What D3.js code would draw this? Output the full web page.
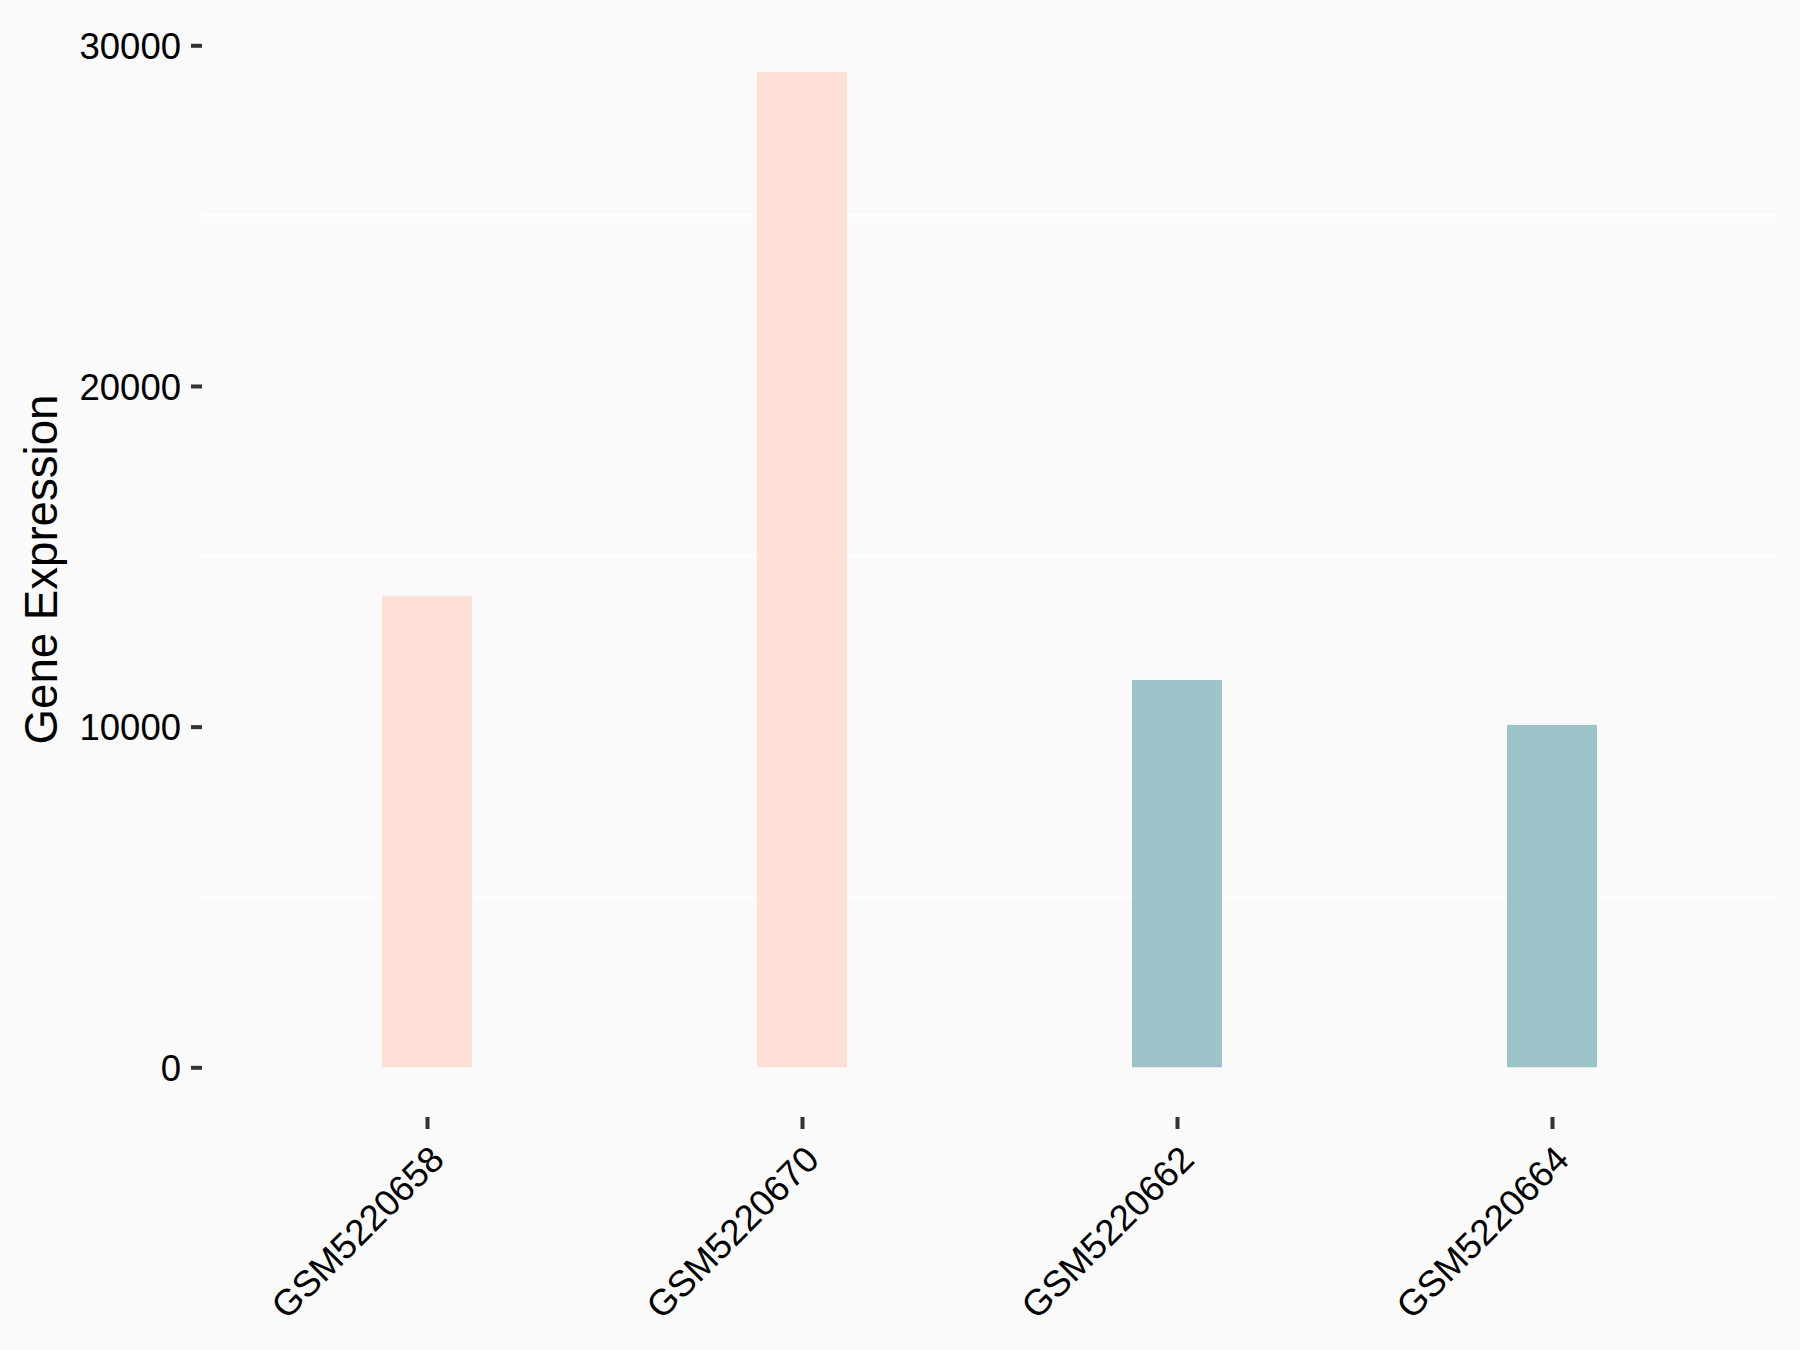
<!DOCTYPE html>
<html>
<head>
<meta charset="utf-8">
<script src="https://cdn.jsdelivr.net/npm/d3@7"></script>
<style>
  html, body { margin: 0; padding: 0; background: #fafafa; }
  svg { display: block; font-family: Arial, "Liberation Sans", sans-serif; }
</style>
</head>
<body>
<div id="chart"></div>
<script>
'use strict';

// sample ids, in plotted order
var samples = ["GSM5220658", "GSM5220670", "GSM5220662", "GSM5220664"];
// expression values
var expression = [13840, 29210, 11370, 10050];
// group of each sample (drives the fill)
var groups = ["A", "A", "B", "B"];
var groupNames = ["A", "B"];
var groupColors = ["#fee0d6", "#9dc4c8"];

var yTicks = [0, 10000, 20000, 30000];
var yMinor = [5000, 15000, 25000];

(function() {
    var width = 1800, height = 1350;
    var panel = { left: 202, right: 1777, top: 22, bottom: 1117 };

    var svg = d3.select("#chart").append("svg")
        .attr("width", width)
        .attr("height", height);

    svg.append("rect")
        .attr("width", width)
        .attr("height", height)
        .attr("fill", "#fafafa");

    var x = d3.scalePoint()
        .domain(samples)
        .range([panel.left, panel.right])
        .padding(0.6);

    var y = d3.scaleLinear()
        .domain([0, 30000])
        .range([1067.3, 45.3]);

    var color = d3.scaleOrdinal().domain(groupNames).range(groupColors);

    var barWidth = x.step() * 0.24;

    // minor grid lines (white on the light panel)
    svg.append("g").selectAll("line")
        .data(yMinor)
        .enter().append("line")
        .attr("x1", panel.left)
        .attr("x2", panel.right)
        .attr("y1", function(d) { return y(d); })
        .attr("y2", function(d) { return y(d); })
        .attr("stroke", "#ffffff")
        .attr("stroke-width", 2);

    // bars
    var data = samples.map(function(s, i) {
        return { sample: s, value: expression[i], group: groups[i] };
    });

    svg.append("g").selectAll("rect")
        .data(data)
        .enter().append("rect")
        .attr("x", function(d) { return x(d.sample) - barWidth / 2; })
        .attr("width", barWidth)
        .attr("y", function(d) { return y(d.value); })
        .attr("height", function(d) { return y(0) - y(d.value); })
        .attr("fill", function(d) { return color(d.group); });

    // y axis
    var yAxis = d3.axisLeft(y)
        .tickValues(yTicks)
        .tickFormat(d3.format("d"))
        .tickSize(11)
        .tickPadding(10);

    var gy = svg.append("g")
        .attr("transform", "translate(" + panel.left + ",0)")
        .call(yAxis);
    gy.select(".domain").remove();
    gy.selectAll(".tick line").attr("stroke", "#333333").attr("stroke-width", 4);
    gy.selectAll(".tick text")
        .attr("fill", "#000")
        .attr("font-size", "36.5px")
        .attr("dy", "0.36em");

    // x axis
    var xAxis = d3.axisBottom(x).tickSize(12).tickFormat(function(d) { return d; });

    var gx = svg.append("g")
        .attr("transform", "translate(0," + panel.bottom + ")")
        .call(xAxis);
    gx.select(".domain").remove();
    gx.selectAll(".tick line").attr("stroke", "#333333").attr("stroke-width", 4);
    gx.selectAll(".tick text")
        .attr("fill", "#000")
        .attr("font-size", "36.5px")
        .attr("text-anchor", "end")
        .attr("x", 0)
        .attr("y", 0)
        .attr("dy", "0.72em")
        .attr("transform", "translate(0,26) rotate(-45)");

    // y axis title
    svg.append("text")
        .attr("transform", "translate(57," + ((panel.top + panel.bottom) / 2) + ") rotate(-90)")
        .attr("text-anchor", "middle")
        .attr("font-size", "45.6px")
        .attr("fill", "#000")
        .text("Gene Expression");
})();
</script>
</body>
</html>
